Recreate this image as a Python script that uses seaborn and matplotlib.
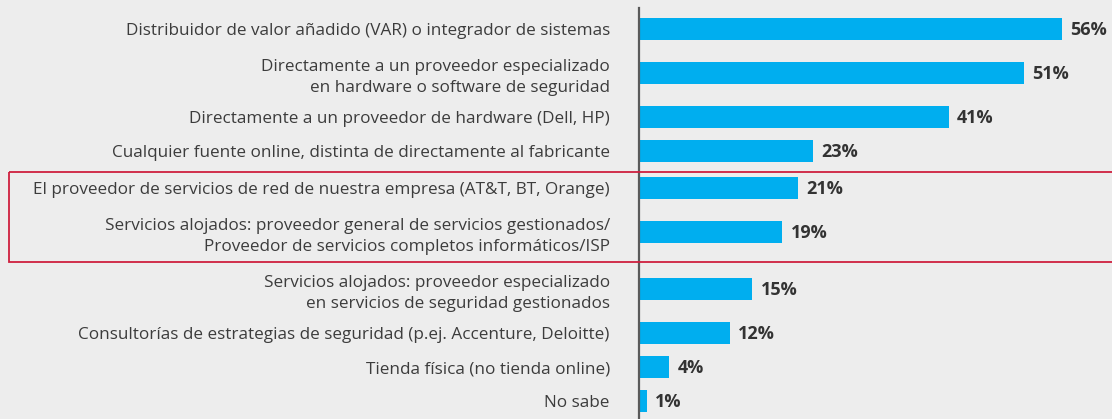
import numpy as np
import pandas as pd
import seaborn as sns
import matplotlib.pyplot as plt
from matplotlib.patches import Rectangle
from matplotlib.transforms import blended_transform_factory

# Datos del gráfico
etiquetas = [
    "Distribuidor de valor añadido (VAR) o integrador de sistemas",
    "Directamente a un proveedor especializado\nen hardware o software de seguridad",
    "Directamente a un proveedor de hardware (Dell, HP)",
    "Cualquier fuente online, distinta de directamente al fabricante",
    "El proveedor de servicios de red de nuestra empresa (AT&T, BT, Orange)",
    "Servicios alojados: proveedor general de servicios gestionados/\nProveedor de servicios completos informáticos/ISP",
    "Servicios alojados: proveedor especializado\nen servicios de seguridad gestionados",
    "Consultorías de estrategias de seguridad (p.ej. Accenture, Deloitte)",
    "Tienda física (no tienda online)",
    "No sabe",
]
valores = [56, 51, 41, 23, 21, 19, 15, 12, 4, 1]
resaltadas = [4, 5]  # filas dentro del recuadro rojo

AZUL = "#00AEEF"
ROJO = "#CF1F3E"
FONDO = "#EDEDED"
TEXTO = "#3C3C3C"

sns.set_theme(style="white")
plt.rcParams["font.family"] = ["Open Sans", "DejaVu Sans"]

# posiciones verticales segun numero de lineas de cada etiqueta (unidades ~ pixeles)
lineas = [e.count("\n") + 1 for e in etiquetas]
pos = [29.0]
for i in range(1, len(etiquetas)):
    paso = 34 + 10 * ((lineas[i - 1] - 1) + (lineas[i] - 1))
    if (i in resaltadas) != (i - 1 in resaltadas):
        paso += 3
    pos.append(pos[-1] + paso)

df = pd.DataFrame({"pos": pos, "valor": valores, "etiqueta": etiquetas})

W, H = 1112, 419
fig = plt.figure(figsize=(W / 100, H / 100), dpi=100)
fig.patch.set_facecolor(FONDO)
ax = fig.add_axes([639 / W, 0, (W - 639) / W, (H - 8) / H])
ax.set_facecolor(FONDO)

sns.barplot(data=df, x="valor", y="pos", orient="h", native_scale=True,
            color=AZUL, saturation=1, ax=ax)

# altura fija de las barras
for p, c in zip(ax.patches, df["pos"]):
    p.set_height(22)
    p.set_y(c - 11)
    p.set_linewidth(0)

ax.set_xlim(0, (W - 639) / 7.55)
ax.set_ylim(H, 8)

ax.set_yticks(pos)
ax.set_yticklabels(etiquetas, fontsize=12.3, color=TEXTO, linespacing=1.42)
ax.tick_params(axis="y", length=0, pad=21)
ax.set_xticks([])
ax.set_xlabel("")
ax.set_ylabel("")

for s in ["top", "right", "bottom"]:
    ax.spines[s].set_visible(False)
ax.spines["left"].set_color("#5A5A5A")
ax.spines["left"].set_linewidth(1.6)

for v, c in zip(valores, pos):
    ax.annotate(f"{v}%", xy=(v, c + 1), xytext=(6, 0), textcoords="offset points",
                ha="left", va="center", fontsize=13, fontweight="bold", color="#333333")

# recuadro rojo alrededor de las filas resaltadas
tr = blended_transform_factory(fig.transFigure, ax.transData)
y0 = pos[resaltadas[0]] - 16
y1 = pos[resaltadas[-1]] + 30
ax.add_patch(Rectangle((9 / W, y0), 1.0, y1 - y0, transform=tr, fill=False,
                       edgecolor=ROJO, linewidth=1.3, clip_on=False, zorder=5))

fig.savefig("out.png", dpi=100, facecolor=FONDO)
